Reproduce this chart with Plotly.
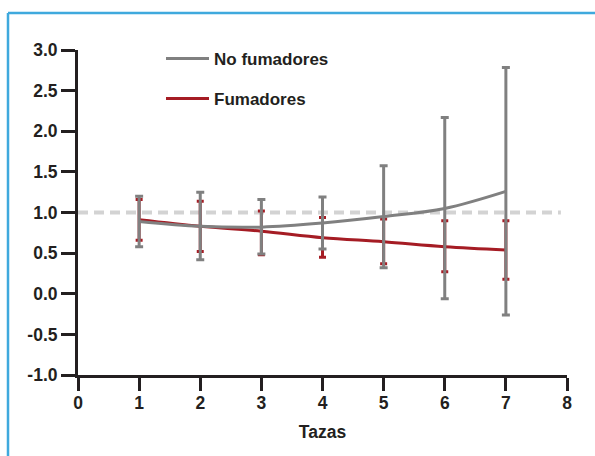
import plotly.graph_objects as go

tazas = [1, 2, 3, 4, 5, 6, 7]

no_fum = [0.89, 0.83, 0.82, 0.87, 0.95, 1.05, 1.26]
no_fum_hi = [1.20, 1.25, 1.16, 1.19, 1.575, 2.17, 2.785]
no_fum_lo = [0.58, 0.42, 0.49, 0.55, 0.32, -0.06, -0.26]

fum = [0.91, 0.83, 0.77, 0.69, 0.64, 0.58, 0.54]
fum_hi = [1.16, 1.14, 1.02, 0.94, 0.92, 0.90, 0.90]
fum_lo = [0.66, 0.52, 0.48, 0.45, 0.37, 0.27, 0.18]

ref_x = [0, 7.9]
ref_y = [1.0, 1.0]

x_ticks = [0, 1, 2, 3, 4, 5, 6, 7, 8]
y_ticks = [3.0, 2.5, 2.0, 1.5, 1.0, 0.5, 0.0, -0.5, -1.0]
y_labels = ["3.0", "2.5", "2.0", "1.5", "1.0", "0.5", "0.0", "-0.5", "-1.0"]

GREY = "#808080"
RED = "#a51c24"
INK = "#231f20"
FONT = "Liberation Sans"

fig = go.Figure()

fig.add_trace(go.Scatter(
    x=ref_x, y=ref_y, mode="lines",
    line=dict(color="#d3d3d3", width=4, dash="10px,6px"),
    showlegend=False, hoverinfo="skip"))

fig.add_trace(go.Scatter(
    x=tazas, y=fum, mode="lines", name="<b>Fumadores</b>",
    line=dict(color=RED, width=3, shape="spline"),
    error_y=dict(type="data", symmetric=False,
                 array=[h - v for h, v in zip(fum_hi, fum)],
                 arrayminus=[v - l for v, l in zip(fum, fum_lo)],
                 color=RED, thickness=3, width=3.5),
    legend="legend2"))

fig.add_trace(go.Scatter(
    x=tazas, y=no_fum, mode="lines", name="<b>No fumadores</b>",
    line=dict(color=GREY, width=3, shape="spline"),
    error_y=dict(type="data", symmetric=False,
                 array=[h - v for h, v in zip(no_fum_hi, no_fum)],
                 arrayminus=[v - l for v, l in zip(no_fum, no_fum_lo)],
                 color=GREY, thickness=3, width=4),
    legend="legend"))

L, R, T, B = 78, 28, 50, 81
W, H = 595, 456
pw, ph = W - L - R, H - T - B

def px_x(p):
    return (p - L) / pw

def px_y(p):
    return (H - B - p) / ph

legend_common = dict(font=dict(family=FONT, size=17, color=INK),
                     bgcolor="rgba(0,0,0,0)", xanchor="left", yanchor="middle",
                     itemwidth=43)

fig.update_layout(
    width=W, height=H,
    margin=dict(l=L, r=R, t=T, b=B),
    paper_bgcolor="white", plot_bgcolor="white",
    font=dict(family=FONT, color=INK, size=17),
    legend=dict(x=px_x(161), y=px_y(59), **legend_common),
    legend2=dict(x=px_x(161), y=px_y(99), **legend_common),
    xaxis=dict(range=[0, 8], tickvals=x_ticks, ticktext=["<b>%d</b>" % v for v in x_ticks],
               showgrid=False, zeroline=False, showline=True,
               linecolor=INK, linewidth=3, ticks="outside", ticklen=13,
               tickwidth=3, tickcolor=INK, ticklabelstandoff=-3,
               tickfont=dict(family=FONT, size=17.5, color=INK),
               title=dict(text="<b>Tazas</b>", font=dict(family=FONT, size=17.5, color=INK),
                          standoff=14)),
    yaxis=dict(range=[-1, 3], tickvals=y_ticks, ticktext=["<b>%s</b>" % t for t in y_labels],
               showgrid=False, zeroline=False, showline=True,
               linecolor=INK, linewidth=3, ticks="outside", ticklen=14,
               tickwidth=3, tickcolor=INK,
               tickfont=dict(family=FONT, size=17.5, color=INK)),
    shapes=[
        dict(type="line", xref="paper", yref="paper",
             x0=px_x(8), x1=px_x(600), y0=px_y(13), y1=px_y(13),
             line=dict(color="#3fa9dd", width=2.5)),
        dict(type="line", xref="paper", yref="paper",
             x0=px_x(8), x1=px_x(8), y0=px_y(13), y1=px_y(460),
             line=dict(color="#3fa9dd", width=2.5)),
    ],
)

fig.write_html("out.html", config={"displayModeBar": False},
               post_script="document.body.style.margin='0';")
